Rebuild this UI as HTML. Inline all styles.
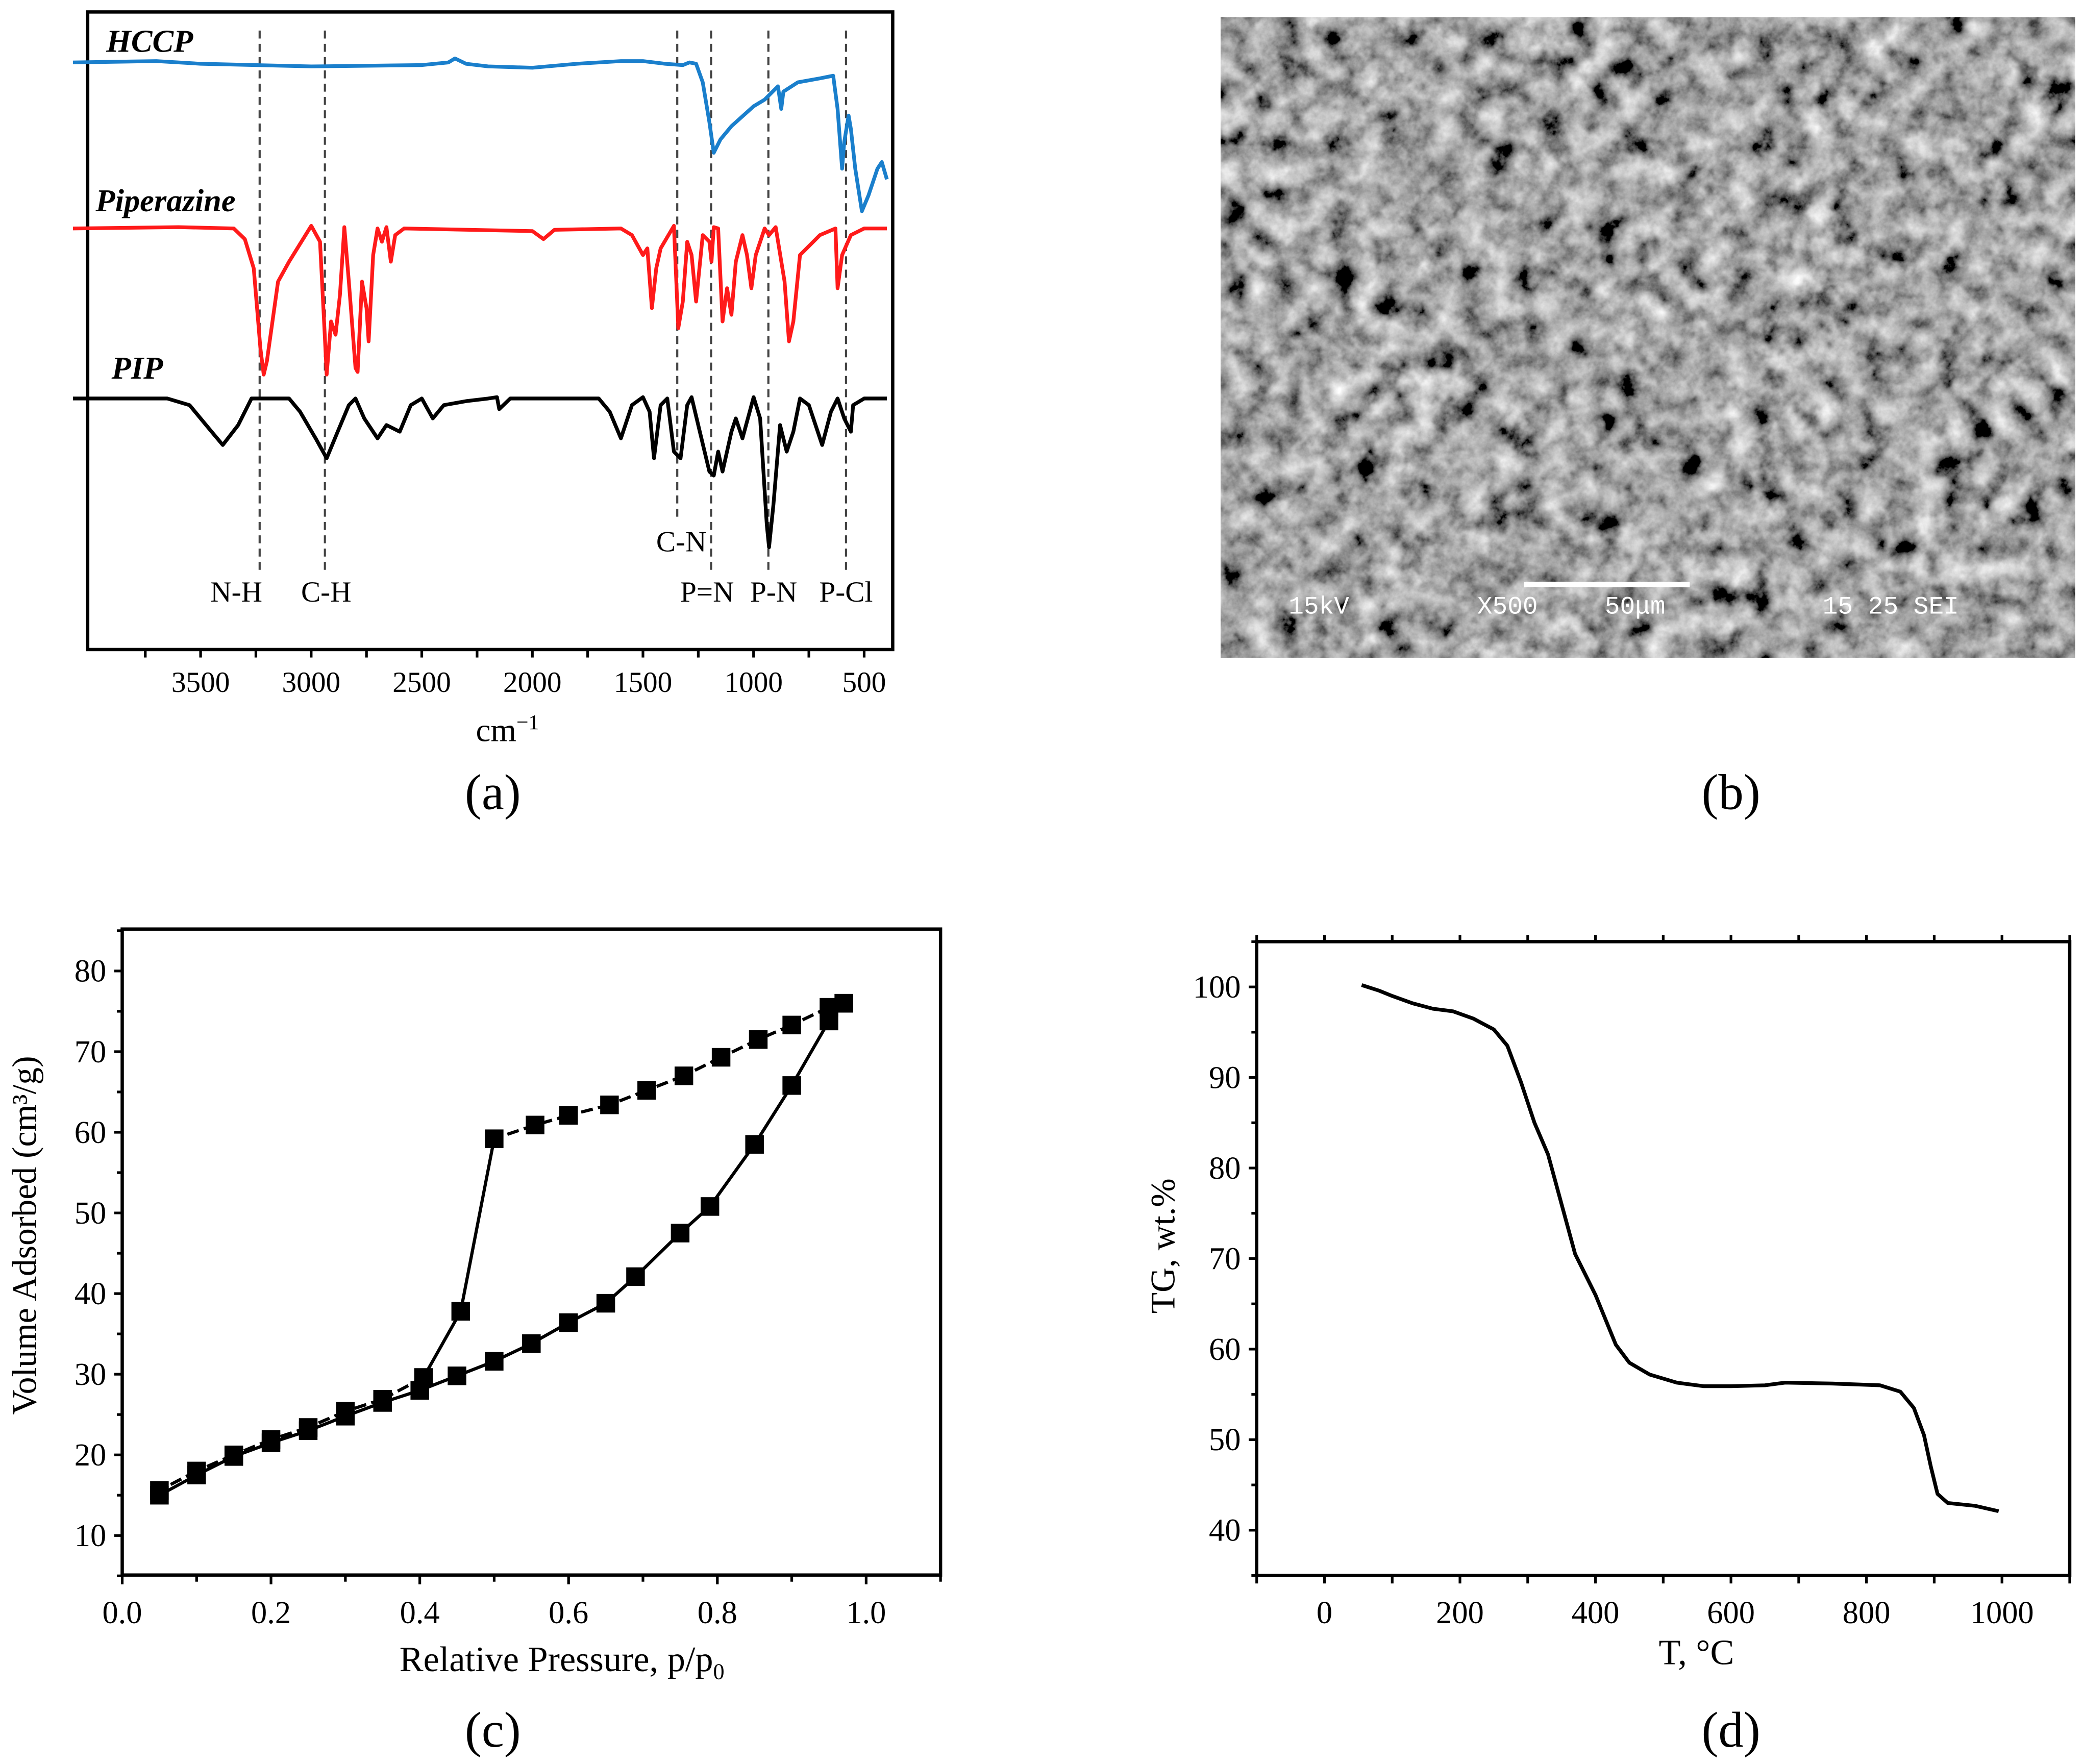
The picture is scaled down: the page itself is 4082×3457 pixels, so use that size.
<!DOCTYPE html>
<html><head><meta charset="utf-8">
<style>
html,body{margin:0;padding:0;background:#fff;}
svg{display:block;}
text{font-family:"Liberation Serif",serif;fill:#000;}
</style></head>
<body>
<svg id="fig" width="4082" height="3457" viewBox="0 0 1568 1328" preserveAspectRatio="none" xmlns="http://www.w3.org/2000/svg">
<defs>
<filter id="sem" x="0" y="0" width="100%" height="100%">
<feTurbulence type="fractalNoise" baseFrequency="0.05" numOctaves="5" seed="7"/>
<feColorMatrix type="matrix" values="0.33 0.33 0.33 0 0  0.33 0.33 0.33 0 0  0.33 0.33 0.33 0 0  0 0 0 0 1"/>
<feComponentTransfer><feFuncR type="linear" slope="2.4" intercept="-0.82"/><feFuncG type="linear" slope="2.4" intercept="-0.82"/><feFuncB type="linear" slope="2.4" intercept="-0.82"/></feComponentTransfer>
</filter>
</defs>
<g id="pa"></g>
<g id="pb">
<rect x="919" y="13" width="643" height="482" fill="#6e6e6e"/>
<rect x="919" y="13" width="643" height="482" filter="url(#sem)"/>
<rect x="1147" y="438" width="125" height="4" fill="#fff"/>
<text x="970" y="462" style="fill:#fff;font-family:'Liberation Mono',monospace;font-size:19px">15kV</text>
<text x="1112" y="462" style="fill:#fff;font-family:'Liberation Mono',monospace;font-size:19px">X500</text>
<text x="1208" y="462" style="fill:#fff;font-family:'Liberation Mono',monospace;font-size:19px">50μm</text>
<text x="1372" y="462" style="fill:#fff;font-family:'Liberation Mono',monospace;font-size:19px">15 25 SEI</text>
<text x="1303" y="609" text-anchor="middle" font-size="38">(b)</text>
</g>
<g id="pc"></g>
<g id="pd"></g>
</svg>
<script>
// ---------- FTIR data ----------
const hccpWn   = [4077,3700,3500,3000,2500,2380,2350,2300,2200,2000,1800,1600,1500,1400,1320,1290,1260,1230,1200,1180,1150,1100,1000,950,890,875,865,800,700,640,620,600,590,570,560,540,510,480,440,420,397];
const hccpDrop = [0,-1,1,3,2,0,-3,1,3,4,1,-1,-1,1,2,0,1,15,45,68,58,48,33,28,18,35,22,15,12,10,35,80,60,40,50,80,112,100,80,75,88];
const pipzWn   = [4077,3600,3350,3300,3260,3230,3215,3200,3150,3100,3000,2960,2940,2930,2910,2890,2870,2850,2830,2800,2790,2770,2750,2740,2720,2700,2680,2660,2640,2620,2580,2000,1950,1900,1600,1550,1500,1480,1460,1440,1420,1360,1340,1320,1300,1280,1260,1230,1200,1190,1180,1160,1140,1120,1100,1080,1050,1030,1010,990,950,930,900,860,840,820,790,700,630,620,600,560,500,397];
const pipzDrop = [0,-1,0,8,30,90,110,100,40,25,-2,10,75,110,70,80,50,-1,40,105,108,40,60,85,20,0,10,-1,25,5,0,2,8,1,0,5,20,15,60,30,15,-2,75,55,10,20,55,5,10,25,-1,0,70,45,65,25,5,20,45,20,0,5,-1,40,85,70,20,5,0,45,20,5,0,0];
const pipWn    = [4077,3650,3550,3450,3400,3330,3270,3100,3050,2980,2930,2880,2830,2800,2760,2700,2660,2600,2550,2500,2450,2400,2300,2200,2160,2150,2100,1700,1650,1600,1550,1500,1470,1450,1420,1390,1360,1330,1300,1280,1250,1200,1180,1160,1140,1100,1080,1050,1000,970,940,930,910,880,850,820,790,750,720,690,650,620,590,560,550,500,397];
const pipDrop  = [0,0,5,25,35,20,0,0,10,30,45,25,5,0,15,30,20,25,5,0,15,5,2,0,-1,8,0,0,10,30,5,-1,10,45,5,0,40,45,5,-1,20,55,58,40,55,25,15,30,-1,15,95,112,80,20,40,25,0,5,20,35,10,0,15,25,5,0,0];
const ftirTicks = [3500,3000,2500,2000,1500,1000,500];
const bandWn = [3233,2938,1345,1192,933,582];
const bandLabels = ["N-H","C-H","C-N","P=N","P-N","P-Cl"];
// ---------- Isotherm data ----------
const adsP = [0.05,0.1,0.15,0.2,0.25,0.3,0.35,0.4,0.45,0.5,0.55,0.6,0.65,0.69,0.75,0.79,0.85,0.9,0.95,0.97];
const adsV = [15,17.5,19.8,21.5,23,24.8,26.5,28,29.8,31.6,33.8,36.4,38.8,42.1,47.5,50.8,58.5,65.8,73.8,76];
const desP = [0.97,0.95,0.9,0.855,0.805,0.755,0.705,0.655,0.6,0.555,0.5,0.455,0.405,0.35,0.3,0.25,0.2,0.15,0.1,0.05];
const desV = [76,75.5,73.3,71.5,69.3,67,65.2,63.4,62.1,60.9,59.2,37.8,29.6,26.9,25.4,23.4,21.9,20,18,15.6];
const isoXTicks = [0,0.2,0.4,0.6,0.8,1.0];
const isoYTicks = [10,20,30,40,50,60,70,80];
// ---------- TGA data ----------
const tgT = [55,80,100,130,160,190,220,250,270,290,310,330,350,370,400,430,450,480,520,560,600,650,680,750,820,850,870,885,895,905,920,960,995];
const tgW = [100.2,99.6,99.0,98.2,97.6,97.3,96.5,95.3,93.5,89.5,85,81.5,76,70.5,66,60.5,58.5,57.2,56.3,55.9,55.9,56.0,56.3,56.2,56.0,55.3,53.5,50.5,47,44,43,42.7,42.1];
const tgXTicks = [0,200,400,600,800,1000];
const tgYTicks = [40,50,60,70,80,90,100];

const NS="http://www.w3.org/2000/svg";
function mk(parent,tag,attrs,txt){const e=document.createElementNS(NS,tag);for(const k in attrs)e.setAttribute(k,attrs[k]);if(txt!==undefined)e.textContent=txt;parent.appendChild(e);return e;}

// ===== Panel A =====
const pa=document.getElementById('pa');
const ax=w=>151+(3500-w)*0.1665;
let f=mk(pa,'rect',{x:66,y:9,width:606,height:480,fill:'none',stroke:'#000','stroke-width':2.5});


for(let w=3750;w>=400;w-=250){
  const t=mk(pa,'line',{x1:ax(w),x2:ax(w),y1:489,y2:495,stroke:'#000','stroke-width':2});
  
  
}
ftirTicks.forEach(v=>{
  const t=mk(pa,'text',{x:ax(v),y:521,'text-anchor':'middle','font-size':22},String(v));
  
  
});
let xt=mk(pa,'text',{x:382,y:558,'text-anchor':'middle','font-size':25},'cm');
mk(xt,'tspan',{dy:-9,'font-size':16},'−1');


let la=mk(pa,'text',{x:371,y:609,'text-anchor':'middle','font-size':38},'(a)');


bandWn.forEach((w,i)=>{
  const y2=i===2?392:432;
  const l=mk(pa,'line',{x1:ax(w),x2:ax(w),y1:23,y2:y2,stroke:'#444','stroke-width':1.6,'stroke-dasharray':'6,4'});
  
  
  const ly=i===2?415:453;
  const anchor=i===0?'end':(i===2?'end':'middle');
  let lx=ax(w); if(i===0)lx+=2; if(i===2)lx+=22; if(i===3)lx-=3; if(i===4)lx+=4; if(i===1)lx+=1;
  const t=mk(pa,'text',{x:lx,y:ly,'text-anchor':anchor,'font-size':22},bandLabels[i]);
  
  
});
function spectrum(wn,drop,base,color,name){
  const pts=wn.map((w,i)=>ax(Math.min(w,4077)).toFixed(1)+','+(base+drop[i]).toFixed(1)).join(' ');
  const p=mk(pa,'polyline',{points:pts,fill:'none',stroke:color,'stroke-width':2.8,'stroke-linejoin':'round'});
  
  
}
spectrum(hccpWn,hccpDrop,47,'#1a7fcc','hccp-spectrum');
spectrum(pipzWn,pipzDrop,172,'#ff1a1a','piperazine-spectrum');
spectrum(pipWn,pipDrop,300,'#000','pip-spectrum');
[['HCCP',80,39,'hccp-label'],['Piperazine',72,159,'piperazine-label'],['PIP',84,285,'pip-label']].forEach(a=>{
  const t=mk(pa,'text',{x:a[1],y:a[2],'font-size':24,'font-weight':'bold','font-style':'italic'},a[0]);
  
  
});

// ===== Panel C =====
const pc=document.getElementById('pc');
const cx=p=>92+p*(652-92);
const cy=v=>1156-(v-10)*(1156-731)/70;
f=mk(pc,'rect',{x:92,y:cy(85.2),width:cx(1.1)-92,height:cy(5.1)-cy(85.2),fill:'none',stroke:'#000','stroke-width':2.5});


for(let v=5;v<=85;v+=5){
  const t=mk(pc,'line',{x1:92,x2:v%10===0?86:88,y1:cy(v),y2:cy(v),stroke:'#000','stroke-width':2});
  
  
}
for(let i=0;i<=11;i++){
  const p=i/10;
  const t=mk(pc,'line',{x1:cx(p),x2:cx(p),y1:cy(5.1),y2:cy(5.1)+(i%2===0?7:5),stroke:'#000','stroke-width':2});
  
  
}
isoYTicks.forEach(v=>{
  const t=mk(pc,'text',{x:80,y:cy(v)+8,'text-anchor':'end','font-size':24},String(v));
  
  
});
isoXTicks.forEach(v=>{
  const t=mk(pc,'text',{x:cx(v),y:1222,'text-anchor':'middle','font-size':24},v.toFixed(1));
  
  
});
let yt=mk(pc,'text',{x:0,y:0,'text-anchor':'middle','font-size':26,transform:'translate(27,930) rotate(-90)'},'Volume Adsorbed (cm³/g)');


xt=mk(pc,'text',{x:423,y:1258,'text-anchor':'middle','font-size':27},'Relative Pressure, p/p');
mk(xt,'tspan',{dy:6,'font-size':17},'0');


let lc=mk(pc,'text',{x:371,y:1315,'text-anchor':'middle','font-size':38},'(c)');


let ap=mk(pc,'polyline',{points:adsP.map((p,i)=>cx(p)+','+cy(adsV[i])).join(' '),fill:'none',stroke:'#000','stroke-width':2.4});


for(let i=0;i<desP.length-1;i++){
  const solid=(desP[i]===0.5||desP[i]===0.455);
  const s=mk(pc,'line',{x1:cx(desP[i]),y1:cy(desV[i]),x2:cx(desP[i+1]),y2:cy(desV[i+1]),stroke:'#000','stroke-width':2.4,'stroke-dasharray':solid?'none':'9,4'});
  
  
}
adsP.forEach((p,i)=>{
  const r=mk(pc,'rect',{x:cx(p)-7,y:cy(adsV[i])-7,width:14,height:14,fill:'#000'});
  
  
});
desP.forEach((p,i)=>{
  const r=mk(pc,'rect',{x:cx(p)-7,y:cy(desV[i])-7,width:14,height:14,fill:'#000'});
  
  
});

// ===== Panel D =====
const pd=document.getElementById('pd');
const dx=t=>997+t*0.51;
const dy=w=>1152-(w-40)*(1152-743)/60;
f=mk(pd,'rect',{x:dx(-100),y:dy(105),width:dx(1100)-dx(-100),height:dy(35)-dy(105),fill:'none',stroke:'#000','stroke-width':2.5});


for(let v=35;v<=105;v+=5){
  const t=mk(pd,'line',{x1:dx(-100),x2:dx(-100)-(v%10===0?6:4),y1:dy(v),y2:dy(v),stroke:'#000','stroke-width':2});
  
  
}
for(let v=-100;v<=1100;v+=100){
  const t1=mk(pd,'line',{x1:dx(v),x2:dx(v),y1:dy(35),y2:dy(35)+6,stroke:'#000','stroke-width':2});
  
  
  const t2=mk(pd,'line',{x1:dx(v),x2:dx(v),y1:dy(105),y2:dy(105)-5,stroke:'#000','stroke-width':2});
  
  
}
tgYTicks.forEach(v=>{
  const t=mk(pd,'text',{x:934,y:dy(v)+8,'text-anchor':'end','font-size':24},String(v));
  
  
});
tgXTicks.forEach(v=>{
  const t=mk(pd,'text',{x:dx(v),y:1222,'text-anchor':'middle','font-size':24},String(v));
  
  
});
yt=mk(pd,'text',{x:0,y:0,'text-anchor':'middle','font-size':26,transform:'translate(884,938) rotate(-90)'},'TG, wt.%');


xt=mk(pd,'text',{x:1277,y:1253,'text-anchor':'middle','font-size':27},'T, °C');


let ld=mk(pd,'text',{x:1303,y:1315,'text-anchor':'middle','font-size':38},'(d)');


let tl=mk(pd,'polyline',{points:tgT.map((t,i)=>dx(t).toFixed(1)+','+dy(tgW[i]).toFixed(1)).join(' '),fill:'none',stroke:'#000','stroke-width':2.8,'stroke-linejoin':'round'});


</script>
</body></html>
